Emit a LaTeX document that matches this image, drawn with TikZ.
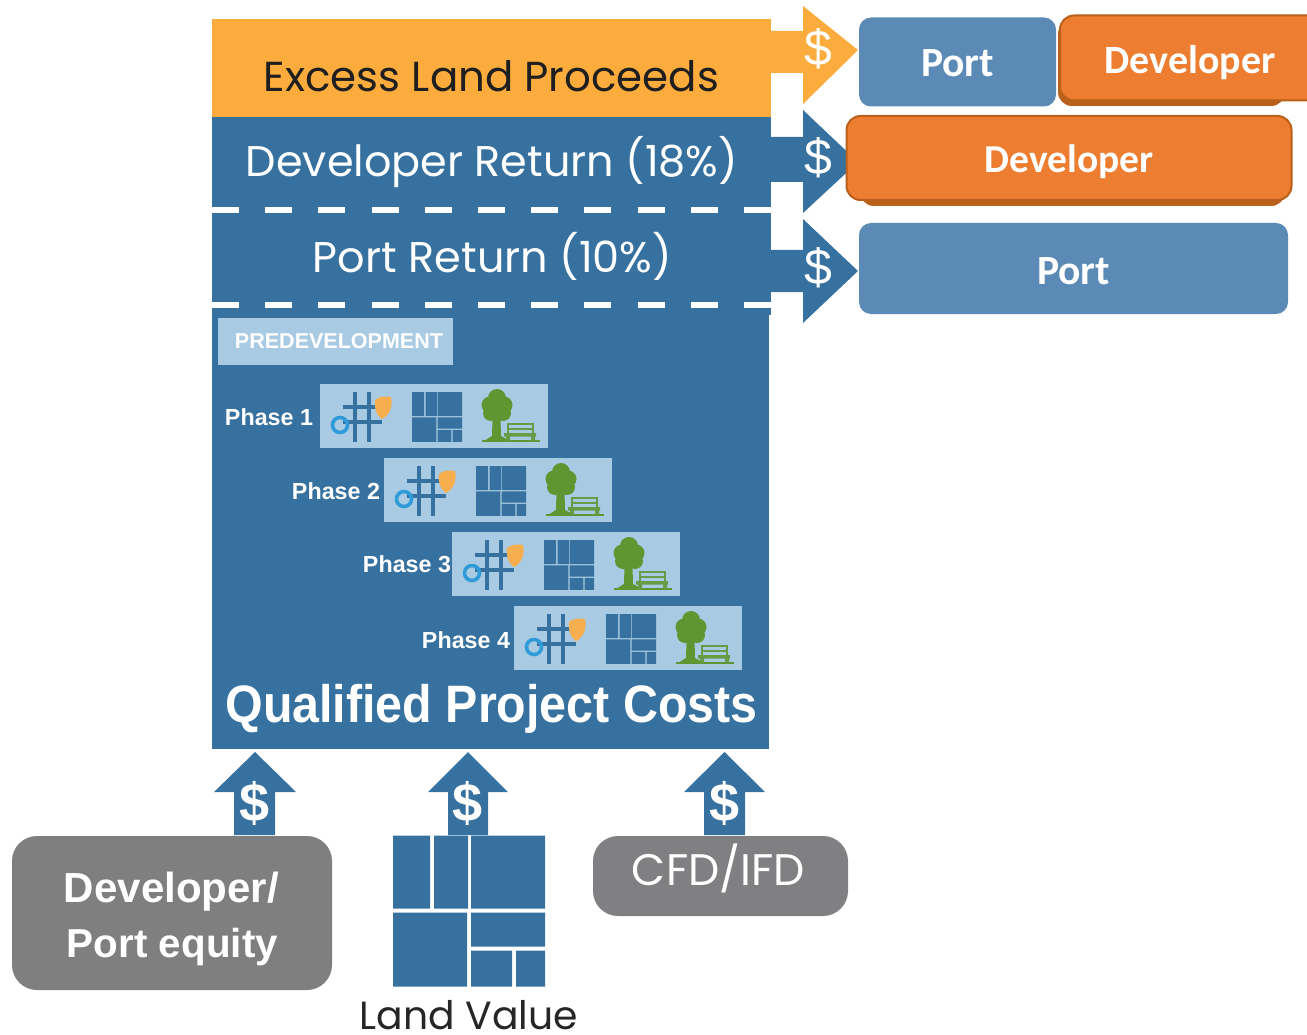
\documentclass[tikz,border=0pt]{standalone}
\usepackage{fontspec}
\usepackage{graphicx}
\setmainfont{Liberation Sans}
\newfontfamily\gothic{Poppins}
\newfontfamily\calib{Carlito}
\definecolor{mainblue}{HTML}{36719F}
\definecolor{boxblue}{HTML}{5A8AB5}
\definecolor{paleblue}{HTML}{A8CBE3}
\definecolor{amber}{HTML}{FBAC3D}
\definecolor{devorange}{HTML}{ED7D31}
\definecolor{devedge}{HTML}{B9601B}
\definecolor{slategray}{HTML}{7F7F7F}
\definecolor{cfdgray}{HTML}{808083}
\definecolor{treegreen}{HTML}{5E9632}
\definecolor{ringblue}{HTML}{2F9BD8}
\definecolor{sunorange}{HTML}{F6AE4E}
\newcommand{\fitw}[2]{\resizebox{#1pt}{!}{#2}}
\tikzset{
  x=1pt,y=-1pt,
  txt/.style={inner sep=0pt,outer sep=0pt,align=center},
  whitetxt/.style={txt,text=white},
  roundbox/.style={rounded corners=#1,inner sep=0pt,draw=none},
  portbox/.style={roundbox=12pt,fill=boxblue,text=white},
  devbox/.style={rounded corners=14pt,inner sep=0pt,fill=devorange,draw=devedge,line width=2pt,text=white},
  devshadow/.style={rounded corners=14pt,fill=devedge,draw=none},
  graybox/.style={rounded corners=25pt,inner sep=0pt,fill=slategray,text=white},
  dashline/.style={draw=white,line width=6.5pt,dash pattern=on 27pt off 26.2pt},
  sidedollar/.style={whitetxt,font=\fontsize{50}{50}\selectfont},
  updollar/.style={whitetxt,font=\fontsize{54}{54}\selectfont\bfseries},
  parcels/.pic={
    \fill[mainblue] (0,0) rectangle (37,73) (41,0) rectangle (75,73) (78,0) rectangle (152,73)
      (0,77) rectangle (74,151) (78,77) rectangle (152,111)
      (78,115) rectangle (119,151) (123,115) rectangle (152,151);
  },
  phaseicons/.pic={
    \fill[paleblue] (0,0) rectangle (228,64);
    \draw[mainblue,line width=4.4pt] (35,8) -- (35,58) (49,8) -- (49,58) (23,23) -- (62,23) (23,38) -- (62,38);
    \fill[sunorange] (55,16) .. controls (60,12) and (66,12) .. (71,13) .. controls (73,22) and (70,31) .. (62,35) .. controls (56,31) and (54,24) .. (55,16) -- cycle;
    \draw[ringblue,line width=3.6pt] (20,41) circle[radius=7.5];
    \pic[scale=0.33] at (92,8) {parcels};
    \fill[treegreen] (177,14) circle[radius=9] (170,21) circle[radius=8.5] (184,21) circle[radius=8.5]
      (171,29) circle[radius=8] (183,29) circle[radius=8] (177,22) circle[radius=12];
    \fill[treegreen] (172.5,34) -- (180.5,34) -- (181,52) -- (190,57) -- (164,57) -- (172,52) -- cycle;
    \fill[treegreen] (162,56) rectangle (220,58);
    \draw[treegreen!88!paleblue,line width=2pt] (188,50) -- (188,40) -- (213,40) -- (213,50) (188,45) -- (213,45);
    \fill[treegreen!88!paleblue] (184,49) rectangle (216,52.5) (186,52.5) rectangle (190,57) (211,52.5) rectangle (215,57);
  },
}
\begin{document}
\begin{tikzpicture}
\clip (0,0) rectangle (1307,1035);
% stacked bars
\fill[mainblue] (212,117) rectangle (771,315);
\fill[mainblue] (212,310) rectangle (769,749);
\fill[amber] (212,19) rectangle (771,117);
% right arrows
\fill[amber] (770,31) -- (803,31) -- (803,6) -- (858,50) -- (803,104) -- (803,73) -- (770,73) -- cycle;
\fill[mainblue] (770,137) -- (803,137) -- (803,110) -- (858,162) -- (803,213) -- (803,182) -- (770,182) -- cycle;
\fill[mainblue] (770,250) -- (803,250) -- (803,219) -- (858,271) -- (803,323) -- (803,292) -- (770,292) -- cycle;
\draw[dashline] (212,210) -- (771,210);
\draw[dashline] (212,305) -- (771,305);
\node[sidedollar] (d1) at (818,49) {\$};
\node[sidedollar] (d2) at (818,158) {\$};
\node[sidedollar] (d3) at (818,268) {\$};
% bar labels
\node[txt,text=black!88] (excess) at (491.5,76.5) {\fitw{455}{\gothic Excess Land Proceeds}};
\node[whitetxt] (devret) at (492,162) {\fitw{492}{\gothic Developer Return (18\%)}};
\node[whitetxt] (portret) at (492.5,256) {\fitw{359}{\gothic Port Return (10\%)}};
% predevelopment
\node[fill=paleblue,minimum width=235pt,minimum height=47pt,inner sep=0pt] (pre) at (335.5,341.5) {};
\node[whitetxt] (pretext) at (339,341.5) {\fitw{208}{\bfseries PREDEVELOPMENT}};
% phases
\pic at (320,384) {phaseicons};
\pic at (384,458) {phaseicons};
\pic at (452,532) {phaseicons};
\pic at (514,606) {phaseicons};
\node[whitetxt] (ph1) at (269,417) {\fitw{88}{\bfseries Phase 1}};
\node[whitetxt] (ph2) at (336,491) {\fitw{88}{\bfseries Phase 2}};
\node[whitetxt] (ph3) at (407,564) {\fitw{88}{\bfseries Phase 3}};
\node[whitetxt] (ph4) at (466,640) {\fitw{88}{\bfseries Phase 4}};
\node[whitetxt,anchor=base] (qpc) at (491.5,722) {\scalebox{1}[1.09]{\fitw{532}{\bfseries Qualified Project Costs}}};
% recipient boxes
\node[portbox,minimum width=197pt,minimum height=89pt] (port1) at (957.5,62) {};
\node[whitetxt] (port1t) at (957.5,63.5) {\fitw{73}{\calib\bfseries Port}};
\fill[devshadow] (1058,20) rectangle (1285,106);
\node[devbox,minimum width=262pt,minimum height=85pt] (dev1) at (1191,58) {};
\node[whitetxt] (dev1t) at (1190,63) {\fitw{171}{\calib\bfseries Developer}};
\fill[devshadow] (860,125) rectangle (1285,206);
\node[devbox,minimum width=445pt,minimum height=84pt] (dev2) at (1069,158) {};
\node[whitetxt] (dev2t) at (1069,162) {\fitw{169}{\calib\bfseries Developer}};
\node[portbox,minimum width=429pt,minimum height=91pt] (port2) at (1073.5,268.5) {};
\node[whitetxt] (port2t) at (1073.5,271.5) {\fitw{73}{\calib\bfseries Port}};
% up arrows
\fill[mainblue] (234,835) -- (234,792) -- (214,792) -- (255,752) -- (296,792) -- (275,792) -- (275,835) -- cycle;
\fill[mainblue] (448,835) -- (448,792) -- (428,792) -- (468,752) -- (508,792) -- (488,792) -- (488,835) -- cycle;
\fill[mainblue] (704,835) -- (704,792) -- (684,792) -- (724.5,752) -- (765,792) -- (745,792) -- (745,835) -- cycle;
\node[updollar] (u1) at (255,803) {\$};
\node[updollar] (u2) at (467.5,803) {\$};
\node[updollar] (u3) at (724.5,803) {\$};
% sources
\node[graybox,minimum width=320pt,minimum height=154pt] (equity) at (172,913) {};
\node[whitetxt] (eq1) at (171.5,891.5) {\fitw{215}{\bfseries Developer/}};
\node[whitetxt] (eq2) at (172.5,947.5) {\fitw{211}{\bfseries Port equity}};
\pic at (393,835.5) {parcels};
\node[txt,text=black!85] (land) at (469,1015) {\fitw{218}{\gothic Land Value}};
\node[graybox,fill=cfdgray,minimum width=255pt,minimum height=80pt] (cfd) at (720.5,876) {};
\node[whitetxt] (cfdt) at (718.5,868) {\fitw{173}{\gothic CFD/IFD}};
\end{tikzpicture}
\end{document}
